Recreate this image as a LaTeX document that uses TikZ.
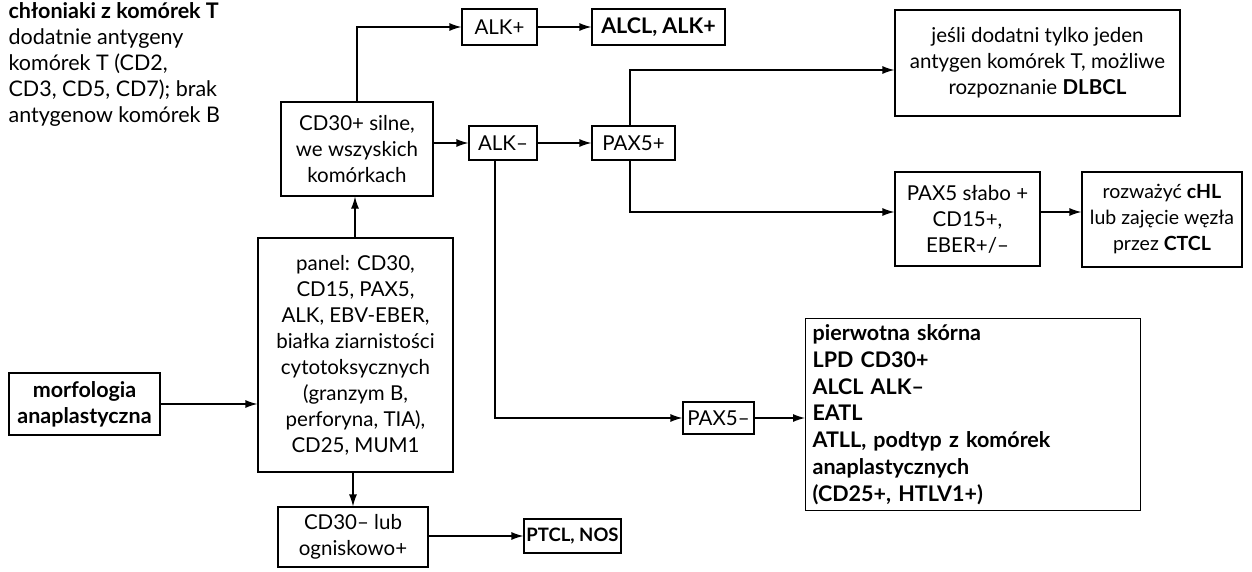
\documentclass[tikz,border=0pt]{standalone}
\usepackage{fontspec}
\setmainfont{Lato}
\usetikzlibrary{arrows.meta}
\begin{document}
\begin{tikzpicture}[x=1pt, y=-1pt, line width=1.2pt, line cap=round,
  >={Latex[length=12pt,width=8pt]},
  every node/.style={font=\fontsize{20.5}{26}\selectfont},
  box/.style={draw, align=center, inner sep=0pt, line cap=butt},
  res/.style={box, font=\fontsize{21.5}{26}\selectfont\bfseries}]
\useasboundingbox (0,0) rectangle (1252,572);

% heading on the left
\node[anchor=north west, align=left, inner sep=0pt, font=\fontsize{21.5}{26}\selectfont] (head) at (8,2)
  {\textbf{chłoniaki z komórek T}\\dodatnie antygeny\\komórek T (CD2,\\CD3, CD5, CD7); brak\\antygenow komórek B};

% main column
\node[res, minimum width=151, minimum height=62] (morf) at (84.5,404) {morfologia\\anaplastyczna};
\node[box, minimum width=195, minimum height=234] (panel) at (355.5,355)
  {panel: CD30,\\CD15, PAX5,\\ALK, EBV-EBER,\\białka ziarnistości\\cytotoksycznych\\(granzym B,\\perforyna, TIA),\\CD25, MUM1};
\node[box, minimum width=152, minimum height=94] (silne) at (357,149) {CD30+ silne,\\we wszyskich\\komórkach};
\node[box, minimum width=150, minimum height=60] (ognis) at (353,537) {CD30– lub\\ogniskowo+};
\node[res, minimum width=97, minimum height=34, font=\fontsize{18.5}{26}\selectfont\bfseries] (ptcl) at (572.5,536) {PTCL, NOS};

% strong CD30 branch
\node[box, minimum width=75, minimum height=36] (alkp) at (499.5,27) {ALK+};
\node[res, minimum width=133, minimum height=36] (alcl) at (658.5,27) {ALCL, ALK+};
\node[box, minimum width=68, minimum height=34] (alkm) at (503,143) {ALK–};
\node[box, minimum width=83, minimum height=34] (paxp) at (633.5,143) {PAX5+};
\node[box, minimum width=285, minimum height=106] (dlbcl) at (1037.5,63)
  {jeśli dodatni tylko jeden\\antygen komórek T, możliwe\\rozpoznanie \textbf{DLBCL}};
\node[box, minimum width=145, minimum height=94] (slabo) at (967.5,219) {PAX5 słabo +\\CD15+,\\EBER+/–};
\node[box, minimum width=160, minimum height=95, font=\fontsize{19.5}{26}\selectfont] (chl) at (1162,219.5)
  {rozważyć \textbf{cHL}\\lub zajęcie węzła\\przez \textbf{CTCL}};
\node[box, minimum width=71, minimum height=32] (paxm) at (718.5,418) {PAX5–};
\node[box, align=left, anchor=north west, minimum width=335, minimum height=192,
  text width=321, inner xsep=7, font=\fontsize{21.5}{26.8}\selectfont\bfseries] (pier) at (805,318)
  {pierwotna skórna\\LPD CD30+\\ALCL ALK–\\EATL\\ATLL, podtyp z komórek\\anaplastycznych\\(CD25+, HTLV1+)};

% connectors
\draw[->] (morf) -- (panel.west |- morf);
\draw[->] (panel.north -| 355,0) -- (silne.south -| 355,0);
\draw[->] (panel.south -| ognis.north) -- (ognis);
\draw[->] (ognis.east |- ptcl) -- (ptcl);
\draw[->] (silne.north) |- (alkp);
\draw[->] (alkp) -- (alcl);
\draw[->] (silne.east |- alkm) -- (alkm);
\draw[->] (alkm) -- (paxp);
\draw[->] (paxp.north -| 630,0) |- (dlbcl.west |- 0,70);
\draw[->] (paxp.south -| 630,0) |- (slabo.west |- 0,212);
\draw[->] (slabo.east |- 0,212) -- (chl.west |- 0,212);
\draw[->] (alkm.south -| 495,0) |- (paxm);
\draw[->] (paxm) -- (pier.west |- paxm);

\end{tikzpicture}
\end{document}
